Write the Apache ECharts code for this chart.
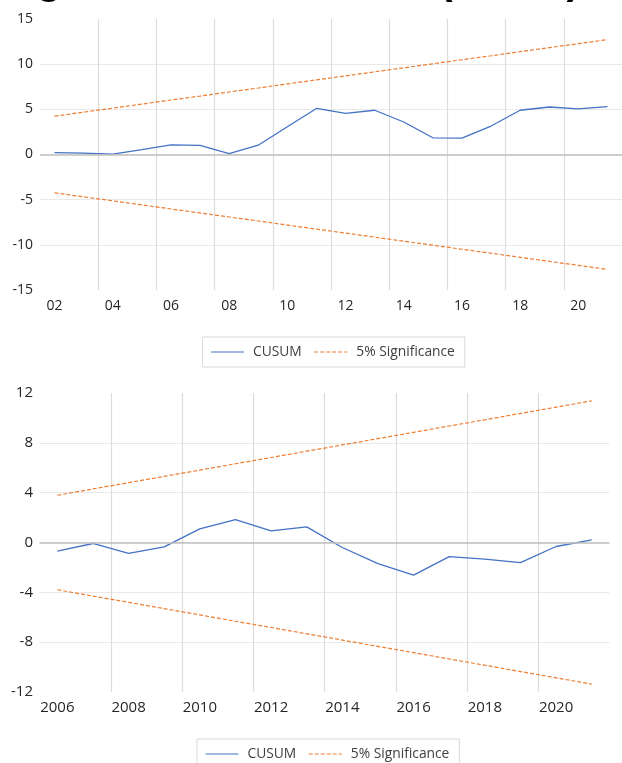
<!DOCTYPE html>
<html><head><meta charset="utf-8">
<script src="https://cdn.jsdelivr.net/npm/echarts@6/dist/echarts.min.js"></script>
<style>html,body{margin:0;padding:0;background:#fff}#c{width:622px;height:763px}</style>
</head><body><div id="c"></div>
<script>
const titleText = 'Figure 4: CUSUM Test (ARDL)';
const legendNames = ['CUSUM', '5% Significance'];

const topYears = ['02','03','04','05','06','07','08','09','10','11','12','13','14','15','16','17','18','19','20','21'];
const topCusum = [0.20, 0.15, 0.05, 0.55, 1.07, 1.00, 0.10, 1.03, 3.07, 5.10, 4.55, 4.90, 3.60, 1.85, 1.82, 3.15, 4.90, 5.26, 5.04, 5.30];
const topUpper = [4.24, 4.69, 5.13, 5.58, 6.03, 6.47, 6.92, 7.36, 7.81, 8.26, 8.70, 9.15, 9.60, 10.04, 10.49, 10.93, 11.38, 11.83, 12.27, 12.72];
const topLower = [-4.24, -4.69, -5.13, -5.58, -6.03, -6.47, -6.92, -7.36, -7.81, -8.26, -8.70, -9.15, -9.60, -10.04, -10.49, -10.93, -11.38, -11.83, -12.27, -12.72];
const topYMin = -15, topYMax = 15, topYStep = 5;

const bottomYears = ['2006','2007','2008','2009','2010','2011','2012','2013','2014','2015','2016','2017','2018','2019','2020','2021'];
const bottomCusum = [-0.70, -0.08, -0.88, -0.35, 1.09, 1.84, 0.93, 1.25, -0.40, -1.69, -2.62, -1.13, -1.34, -1.61, -0.32, 0.21];
const bottomUpper = [3.79, 4.30, 4.80, 5.31, 5.81, 6.32, 6.82, 7.33, 7.83, 8.34, 8.84, 9.35, 9.85, 10.36, 10.86, 11.37];
const bottomLower = [-3.79, -4.30, -4.80, -5.31, -5.81, -6.32, -6.82, -7.33, -7.83, -8.34, -8.84, -9.35, -9.85, -10.36, -10.86, -11.37];
const bottomYMin = -12, bottomYMax = 12, bottomYStep = 4;

const BLUE = '#4472C4', ORANGE = '#ED7D31';
const FONT = 'Open Sans';

function xAxisCfg(gi, data, fs, margin) {
  return {
    gridIndex: gi, type: 'category', data: data, boundaryGap: true,
    axisLine: { show: false, onZero: false }, axisTick: { show: false },
    axisLabel: { interval: 1, margin: margin, color: '#262626', fontFamily: FONT, fontSize: fs },
    splitLine: { show: true, interval: 1, showMinLine: false, showMaxLine: false,
      lineStyle: { color: '#dcdcdc', width: 1.2 } }
  };
}
function yAxisCfg(gi, mn, mx, step, fs, margin) {
  return {
    gridIndex: gi, type: 'value', min: mn, max: mx, interval: step,
    axisLine: { show: false }, axisTick: { show: false },
    axisLabel: { margin: margin, color: '#262626', fontFamily: FONT, fontSize: fs },
    splitLine: { show: true, showMinLine: false, showMaxLine: false,
      lineStyle: { color: '#e9e9e9', width: 1.2 } }
  };
}
function seriesSet(idx, cusum, up, lo) {
  const dashed = { color: ORANGE, width: 1.2, type: [4, 2] };
  return [
    { name: legendNames[0], type: 'line', xAxisIndex: idx, yAxisIndex: idx, data: cusum,
      symbol: 'none', lineStyle: { color: BLUE, width: 1.3 }, itemStyle: { color: BLUE }, z: 3,
      markLine: { silent: true, symbol: ['none', 'none'], label: { show: false },
        lineStyle: { color: '#bfbfbf', type: 'solid', width: 1.5 }, data: [{ yAxis: 0 }] } },
    { name: legendNames[1], type: 'line', xAxisIndex: idx, yAxisIndex: idx, data: up,
      symbol: 'none', lineStyle: dashed, itemStyle: { color: ORANGE } },
    { name: legendNames[1], type: 'line', xAxisIndex: idx, yAxisIndex: idx, data: lo,
      symbol: 'none', lineStyle: dashed, itemStyle: { color: ORANGE } }
  ];
}
function legendCfg(left, top) {
  return {
    left: left, top: top, data: legendNames, orient: 'horizontal',
    itemWidth: 33, itemHeight: 14, itemGap: 12,
    itemStyle: { opacity: 0 },
    lineStyle: { width: 1 },
    borderColor: '#d9d9d9', borderWidth: 1, padding: [8, 10, 8, 8],
    textStyle: { fontFamily: FONT, fontSize: 13.8, color: '#404040', padding: [0, 0, 0, 4] }
  };
}

const chart = echarts.init(document.getElementById('c'), null, { renderer: 'canvas' });
chart.setOption({
  animation: false,
  backgroundColor: '#fff',
  graphic: [{
    type: 'text', x: 0, y: 3.5, silent: true,
    style: { text: titleText, font: 'bold 41px "Liberation Sans"', fill: '#000', verticalAlign: 'bottom' }
  }],
  grid: [
    { left: 40, right: -6, top: 19, height: 271 },
    { left: 39.5, right: 12.5, top: 393, height: 299 }
  ],
  legend: [legendCfg(202.5, 337), legendCfg(197, 739)],
  xAxis: [xAxisCfg(0, topYears, 14, 9), xAxisCfg(1, bottomYears, 15, 8)],
  yAxis: [yAxisCfg(0, topYMin, topYMax, topYStep, 14, 7), yAxisCfg(1, bottomYMin, bottomYMax, bottomYStep, 15, 6.5)],
  series: [].concat(seriesSet(0, topCusum, topUpper, topLower), seriesSet(1, bottomCusum, bottomUpper, bottomLower))
});
</script></body></html>
